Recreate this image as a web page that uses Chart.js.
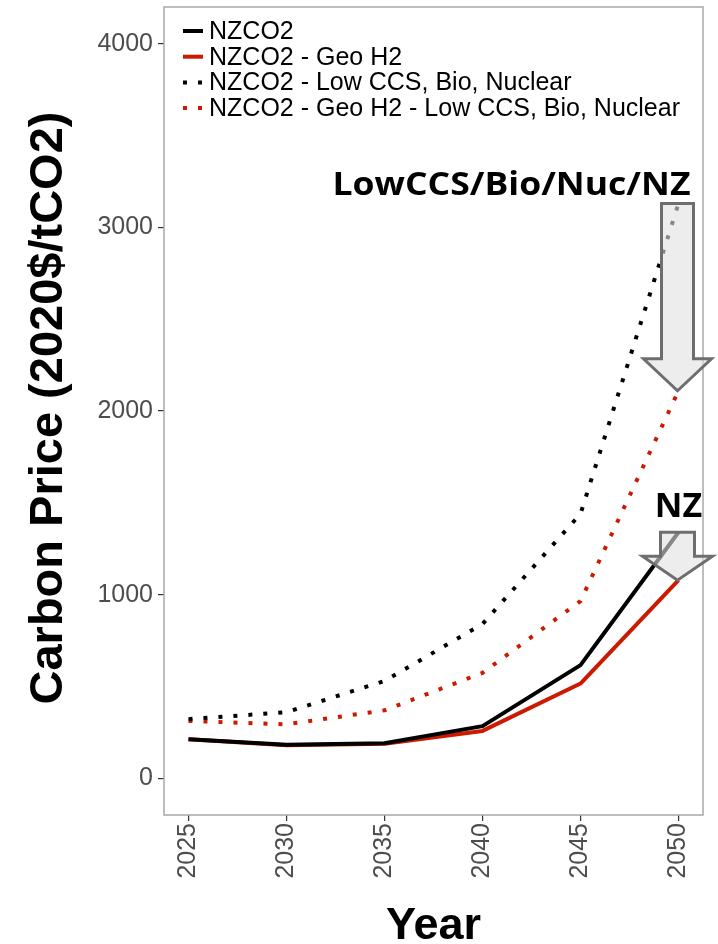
<!DOCTYPE html>
<html>
<head>
<meta charset="utf-8">
<script src="https://cdn.jsdelivr.net/npm/chart.js@4.4.1/dist/chart.umd.min.js"></script>
<style>
  html, body { margin: 0; padding: 0; background: #fff; }
  canvas { display: block; }
</style>
</head>
<body>
<canvas id="chart" width="718" height="944"></canvas>
<script>
// Carbon price by scenario (2020$/tCO2)
const years = [2025, 2030, 2035, 2040, 2045, 2050];
const nzco2 = [212, 182, 191, 284, 616, 1340];
const nzco2GeoH2 = [212, 180, 188, 258, 516, 1079];
const nzco2LowCcs = [322, 360, 530, 840, 1440, 3130];
const nzco2GeoH2LowCcs = [312, 294, 370, 574, 965, 2110];
const yTicks = [0, 1000, 2000, 3000, 4000];
const seriesLabels = [
  'NZCO2',
  'NZCO2 - Geo H2',
  'NZCO2 - Low CCS, Bio, Nuclear',
  'NZCO2 - Geo H2 - Low CCS, Bio, Nuclear'
];

const BLACK = '#000000';
const RED = '#cc1a00';
const DOTS = [4, 11];

const toPoints = vals => vals.map((v, i) => ({ x: years[i], y: v }));

// Panel border, legend, titles and the two arrows
const decorPlugin = {
  id: 'decor',
  beforeDatasetsDraw(chart) {
    const { ctx, chartArea: a } = chart;
    ctx.save();
    ctx.strokeStyle = '#a8a8a8';
    ctx.lineWidth = 1.5;
    ctx.strokeRect(a.left, a.top, a.right - a.left, a.bottom - a.top);
    ctx.restore();
  },
  afterDatasetsDraw(chart) {
    const { ctx } = chart;
    const xs = chart.scales.x, ys = chart.scales.y;
    const last = years.length - 1;
    const ax = xs.getPixelForValue(years[last]) - 1;

    // arrows from the base scenario down to the Geo H2 one
    drawArrow(ctx, ax, ys.getPixelForValue(nzco2LowCcs[last]),
      ys.getPixelForValue(nzco2GeoH2LowCcs[last]), 32, 68, 32);
    drawArrow(ctx, ax, ys.getPixelForValue(nzco2[last]),
      ys.getPixelForValue(nzco2GeoH2[last]), 34, 70, 24);

    ctx.save();
    ctx.fillStyle = '#000';
    ctx.textBaseline = 'alphabetic';
    ctx.font = 'bold 33px "Open Sans"';
    const big = 'LowCCS/Bio/Nuc/NZ';
    const bigTop = ys.getPixelForValue(nzco2LowCcs[last]);
    const w = ctx.measureText(big).width;
    ctx.save();
    ctx.translate(ax + 13, bigTop - 8);
    ctx.scale(358 / w, 1);
    ctx.textAlign = 'right';
    ctx.fillText(big, 0, 0);
    ctx.restore();

    ctx.textAlign = 'center';
    ctx.font = 'bold 34px "Open Sans"';
    ctx.fillText('NZ', ax + 1, ys.getPixelForValue(nzco2[last]) - 15);
    ctx.restore();
  },
  afterDraw(chart) {
    const { ctx, chartArea: a } = chart;
    ctx.save();

    // legend inside the panel
    const styles = chart.data.datasets;
    ctx.font = '25px "Liberation Sans"';
    ctx.textBaseline = 'middle';
    ctx.textAlign = 'left';
    styles.forEach((ds, i) => {
      const y = a.top + 24 + i * 25.7;
      ctx.beginPath();
      ctx.strokeStyle = ds.borderColor;
      ctx.lineWidth = 4;
      ctx.lineCap = 'butt';
      ctx.setLineDash(ds.borderDash || []);
      ctx.moveTo(a.left + 19, y);
      ctx.lineTo(a.left + 39, y);
      ctx.stroke();
      ctx.setLineDash([]);
      ctx.fillStyle = '#000';
      ctx.fillText(ds.label, a.left + 45, y + 1);
    });

    // axis titles
    ctx.fillStyle = '#000';
    ctx.font = 'bold 47px "Liberation Sans"';
    ctx.textAlign = 'center';
    ctx.textBaseline = 'alphabetic';
    ctx.save();
    ctx.translate(62, (a.top + a.bottom) / 2 - 3);
    ctx.rotate(-Math.PI / 2);
    ctx.fillText('Carbon Price (2020$/tCO2)', 0, 0);
    ctx.restore();

    ctx.font = 'bold 45px "Liberation Sans"';
    ctx.fillText('Year', (a.left + a.right) / 2, 939);
    ctx.restore();
  }
};

function drawArrow(ctx, x, yTop, yTip, shaftW, headW, headH) {
  ctx.save();
  ctx.beginPath();
  ctx.moveTo(x - shaftW / 2, yTop);
  ctx.lineTo(x + shaftW / 2, yTop);
  ctx.lineTo(x + shaftW / 2, yTip - headH);
  ctx.lineTo(x + headW / 2, yTip - headH);
  ctx.lineTo(x, yTip);
  ctx.lineTo(x - headW / 2, yTip - headH);
  ctx.lineTo(x - shaftW / 2, yTip - headH);
  ctx.closePath();
  ctx.fillStyle = 'rgba(225,225,225,0.6)';
  ctx.fill();
  ctx.strokeStyle = '#6e6e6e';
  ctx.lineWidth = 3;
  ctx.lineJoin = 'miter';
  ctx.stroke();
  ctx.restore();
}

const tickFont = { family: '"Liberation Sans"', size: 25 };

new Chart(document.getElementById('chart'), {
  type: 'line',
  data: {
    datasets: [
      { label: seriesLabels[0], data: toPoints(nzco2), borderColor: BLACK, borderWidth: 4 },
      { label: seriesLabels[1], data: toPoints(nzco2GeoH2), borderColor: RED, borderWidth: 4 },
      { label: seriesLabels[2], data: toPoints(nzco2LowCcs), borderColor: BLACK, borderWidth: 4, borderDash: DOTS },
      { label: seriesLabels[3], data: toPoints(nzco2GeoH2LowCcs), borderColor: RED, borderWidth: 4, borderDash: DOTS }
    ]
  },
  options: {
    responsive: false,
    animation: false,
    devicePixelRatio: 1,
    layout: { padding: { left: 0, right: 15, top: 7, bottom: 0 } },
    elements: {
      point: { radius: 0, hoverRadius: 0 },
      line: { tension: 0, fill: false, borderCapStyle: 'butt', borderJoinStyle: 'round' }
    },
    plugins: {
      legend: { display: false },
      tooltip: { enabled: false }
    },
    scales: {
      x: {
        type: 'linear',
        min: 2023.75,
        max: 2051.25,
        afterBuildTicks: s => { s.ticks = years.map(v => ({ value: v })); },
        afterFit: s => { s.height = 129; s.paddingLeft = 0; s.paddingRight = 0; },
        ticks: {
          minRotation: 90,
          maxRotation: 90,
          padding: 2,
          color: '#4d4d4d',
          font: tickFont,
          callback: v => String(v)
        },
        grid: { drawOnChartArea: false, drawTicks: true, tickLength: 6, color: '#333', lineWidth: 1.2 },
        border: { display: false }
      },
      y: {
        min: -200,
        max: 4200,
        afterBuildTicks: s => { s.ticks = yTicks.map(v => ({ value: v })); },
        afterFit: s => { s.width = 164; s.paddingTop = 0; s.paddingBottom = 0; },
        ticks: {
          padding: 5,
          color: '#4d4d4d',
          font: tickFont,
          callback: v => String(v)
        },
        grid: { drawOnChartArea: false, drawTicks: true, tickLength: 6, color: '#333', lineWidth: 1.2 },
        border: { display: false }
      }
    }
  },
  plugins: [decorPlugin]
});
</script>
</body>
</html>
